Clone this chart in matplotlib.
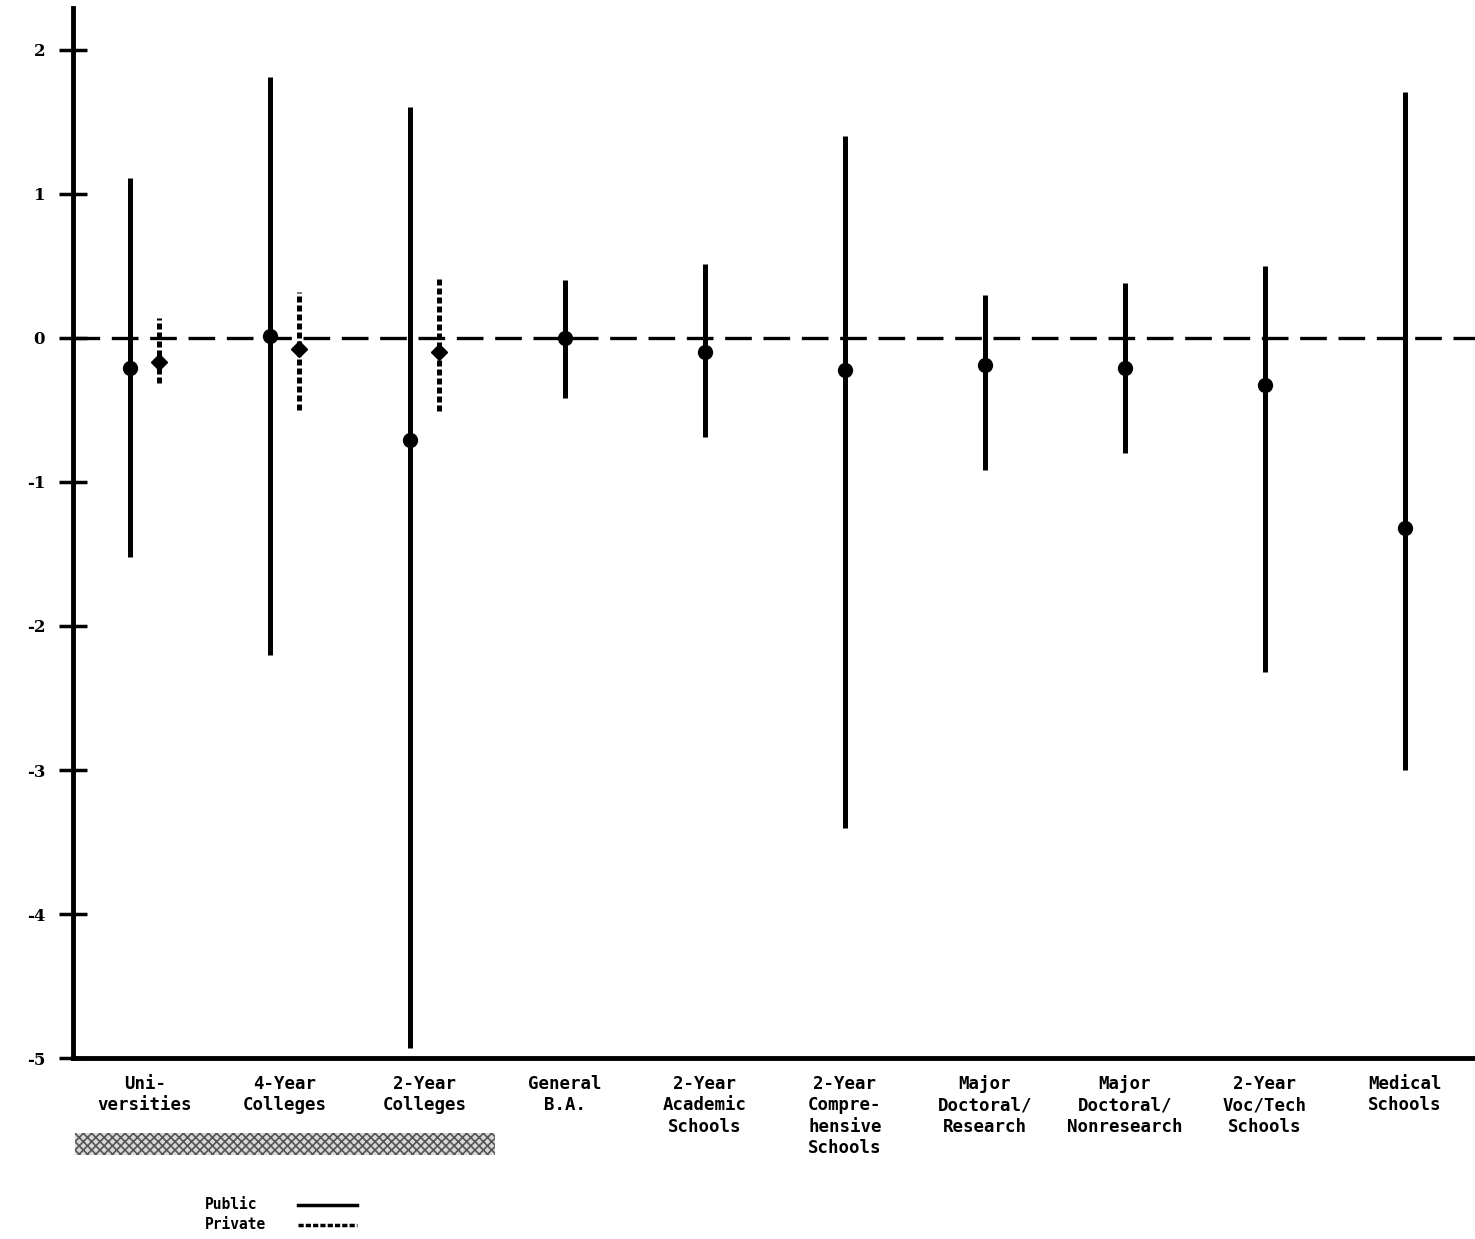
import matplotlib.pyplot as plt
from matplotlib.lines import Line2D
from matplotlib.patches import Rectangle

categories = ['Uni-\nversities', '4-Year\nColleges', '2-Year\nColleges', 'General\nB.A.',
              '2-Year\nAcademic\nSchools', '2-Year\nCompre-\nhensive\nSchools',
              'Major\nDoctoral/\nResearch', 'Major\nDoctoral/\nNonresearch',
              '2-Year\nVoc/Tech\nSchools', 'Medical\nSchools']

public_mid = [-0.21, 0.01, -0.71, 0.00, -0.10, -0.22, -0.19, -0.21, -0.33, -1.32]
public_low = [-1.52, -2.20, -4.93, -0.42, -0.69, -3.40, -0.92, -0.80, -2.32, -3.00]
public_high = [1.11, 1.81, 1.60, 0.40, 0.51, 1.40, 0.30, 0.38, 0.50, 1.71]

# only the first three types have a private sector
private_mid = [-0.17, -0.08, -0.10]
private_low = [-0.31, -0.50, -0.51]
private_high = [0.14, 0.32, 0.42]

y_ticks = [2, 1, 0, -1, -2, -3, -4, -5]

mono = 'DejaVu Sans Mono'
plt.rcParams['hatch.linewidth'] = 1.2

fig = plt.figure(figsize=(14.75, 12.39), dpi=100)
ax = fig.add_axes([0.0495, 0.146, 0.9505, 0.8475])

n_priv = len(private_mid)
for i in range(len(categories)):
    x = i - 0.107 if i < n_priv else i
    ax.plot([x, x], [public_low[i], public_high[i]], color='black', lw=3.6,
            solid_capstyle='butt', zorder=3)
    ax.plot(x, public_mid[i], 'o', color='black', ms=10, zorder=4)

for i in range(n_priv):
    x = i + 0.1
    ax.plot([x, x], [private_low[i], private_high[i]], color='black', lw=3.6,
            ls=(0, (1.2, 0.6)), zorder=3)
    ax.plot(x, private_mid[i], 'D', color='black', ms=8, zorder=4)

ax.axhline(0, color='black', lw=2.4, ls=(0, (8, 3.5)), zorder=2)

ax.set_xlim(-0.514, 9.5)
ax.set_ylim(-5, 2.29)

ax.set_yticks(y_ticks)
ax.set_yticklabels([str(v) for v in y_ticks], fontsize=12, family='DejaVu Serif',
                   fontweight='bold')
ax.tick_params(axis='y', direction='inout', length=20, width=2.5, pad=10)

ax.set_xticks(range(len(categories)))
ax.set_xticklabels(categories, family=mono, fontweight='bold', fontsize=12.5,
                   linespacing=1.25, va='top')
ax.tick_params(axis='x', length=0, pad=12)

for side in ['top', 'right']:
    ax.spines[side].set_visible(False)
ax.spines['left'].set_linewidth(3.5)
ax.spines['bottom'].set_linewidth(3.5)

# shaded band marking the first three (public/private) types
ax.add_patch(Rectangle((-0.5, -0.092), 3.0, 0.021, transform=ax.get_xaxis_transform(),
                       facecolor='#d8d8d8', edgecolor='#555555', lw=0, hatch='xxxx',
                       clip_on=False))

# legend drawn by hand: label first, line sample after it
legend_rows = [('Public', '-', 0.0275), ('Private', (0, (1.5, 0.6)), 0.0115)]
for label, style, yy in legend_rows:
    fig.text(0.139, yy, label, family=mono, fontweight='bold', fontsize=10.5,
             ha='left', va='center')
    fig.add_artist(Line2D([0.202, 0.242], [yy, yy], transform=fig.transFigure,
                          color='black', lw=2.5, ls=style))

fig.savefig('out.png', dpi=100)
